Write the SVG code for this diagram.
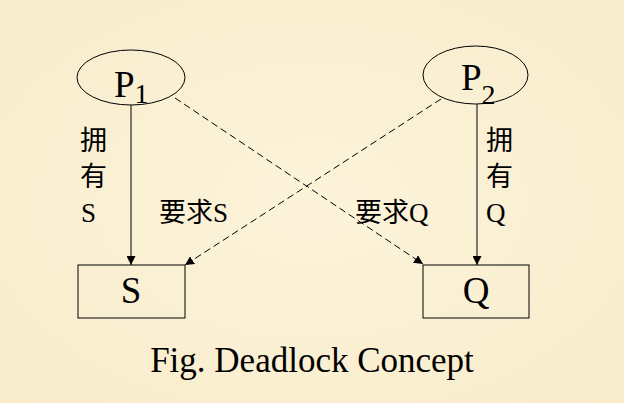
<svg xmlns="http://www.w3.org/2000/svg" width="624" height="403" viewBox="0 0 624 403">
<defs>
<marker id="ah" viewBox="0 0 10 10" refX="10" refY="5" markerWidth="9" markerHeight="9" markerUnits="userSpaceOnUse" orient="auto">
<path d="M0,0 L10,5 L0,10 Z" fill="#000"/>
</marker>
<radialGradient id="bg" cx="50%" cy="50%" r="70%">
<stop offset="0" stop-color="#FCF3DA"/>
<stop offset="1" stop-color="#F8ECCB"/>
</radialGradient>
</defs>
<style>
.shape{fill:none;stroke:#000;stroke-width:1}
.line{stroke:#000;stroke-width:1;fill:none}
.dash{stroke-dasharray:7,4}
.t{font-family:"Liberation Serif",serif;fill:#000}
.cjk{font-family:"Noto Sans CJK SC",sans-serif}
.lat{font-family:"Liberation Serif",serif}
.big{font-size:37px}
.sub{font-size:28px}
.lbl{font-size:27px}
.cap{font-size:35px}
</style>
<rect width="624" height="403" fill="url(#bg)"/>
<g id="connectors">
<line class="line" x1="131" y1="105" x2="131" y2="265" marker-end="url(#ah)"/>
<line class="line" x1="477" y1="104" x2="477" y2="265" marker-end="url(#ah)"/>
<line class="line dash" x1="175" y1="98" x2="423" y2="264" marker-end="url(#ah)"/>
<line class="line dash" x1="441" y1="99" x2="185" y2="265" marker-end="url(#ah)"/>
</g>
<g id="P1">
<ellipse class="shape" cx="131" cy="77.5" rx="54" ry="27.5"/>
<text class="t big" x="114" y="97">P<tspan class="sub" dy="6">1</tspan></text>
</g>
<g id="P2">
<ellipse class="shape" cx="475.5" cy="75" rx="52.5" ry="29"/>
<text class="t big" x="461" y="90">P<tspan class="sub" dy="14">2</tspan></text>
</g>
<g id="S">
<rect class="shape" x="78" y="265" width="107" height="53"/>
<text class="t big" x="131" y="303" text-anchor="middle">S</text>
</g>
<g id="Q">
<rect class="shape" x="423" y="265" width="106" height="53"/>
<text class="t big" x="476" y="303" text-anchor="middle">Q</text>
</g>
<g id="labels">
<text class="t lbl cjk" x="80" y="150">拥</text>
<text class="t lbl cjk" x="80" y="186">有</text>
<text class="t lbl lat" x="81" y="222">S</text>
<text class="t lbl cjk" x="486" y="150">拥</text>
<text class="t lbl cjk" x="486" y="186">有</text>
<text class="t lbl lat" x="486" y="222">Q</text>
<text class="t lbl" x="159" y="222"><tspan class="cjk">要求</tspan><tspan class="lat">S</tspan></text>
<text class="t lbl" x="355" y="222"><tspan class="cjk">要求</tspan><tspan class="lat">Q</tspan></text>
</g>
<text class="t cap" x="312" y="372" text-anchor="middle">Fig. Deadlock Concept</text>
</svg>
